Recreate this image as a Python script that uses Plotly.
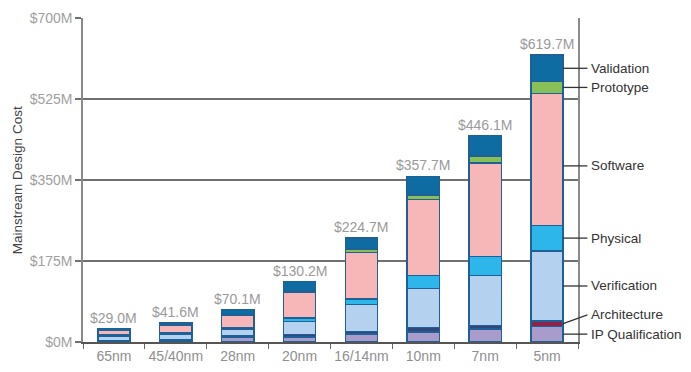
import plotly.graph_objects as go

categories = ["65nm", "45/40nm", "28nm", "20nm", "16/14nm", "10nm", "7nm", "5nm"]
totals = [29.0, 41.6, 70.1, 130.2, 224.7, 357.7, 446.1, 619.7]

ip_qualification = [2.2, 3.0, 9.8, 11.0, 17.7, 21.2, 28.6, 34.0]
architecture = [1.2, 1.5, 3.5, 4.8, 5.3, 10.3, 7.2, 11.0]
verification = [9.2, 12.0, 13.5, 28.5, 58.2, 84.5, 108.1, 152.0]
physical = [2.2, 2.5, 3.0, 7.2, 12.0, 27.5, 40.8, 55.0]
software = [9.6, 17.5, 28.0, 55.0, 100.5, 164.5, 202.0, 285.0]
prototype = [0.4, 0.6, 0.8, 3.7, 6.7, 10.0, 15.0, 26.0]
validation = [4.2, 4.5, 11.5, 20.0, 24.3, 39.7, 44.4, 56.7]

series_names = ["IP Qualification", "Architecture", "Verification", "Physical",
                "Software", "Prototype", "Validation"]
series_values = [ip_qualification, architecture, verification, physical,
                 software, prototype, validation]
arch_colors = ["#34477d"] * 7 + ["#8b2448"]
series_colors = ["#a99ccb", arch_colors, "#b4d1ef", "#2db6ea",
                 "#f7b7b8", "#88c057", "#0e6ca3"]

tick_vals = [0, 175, 350, 525, 700]
tick_text = ["$0M", "$175M", "$350M", "$525M", "$700M"]

FONT = "Liberation Sans, Arial, Helvetica, sans-serif"
BAR_W = 0.52

fig = go.Figure()
for name, vals, col in zip(series_names, series_values, series_colors):
    fig.add_trace(go.Bar(
        x=categories, y=vals, name=name, width=BAR_W,
        marker=dict(color=col, line=dict(color="#1f6096", width=1.5)),
    ))

# total labels
for c, t in zip(categories, totals):
    fig.add_annotation(x=c, y=t, text=f"${t:.1f}M", showarrow=False,
                       yanchor="bottom", yshift=1,
                       font=dict(family=FONT, size=14, color="#9a9a9a"))

# right-side series labels pointing at the last bar
n = len(categories)
bar_right = (n - 1 + BAR_W / 2 + 0.5) / n
line_end = bar_right + 0.049
label_x = line_end + 0.004
last = [v[-1] for v in series_values]
label_offsets = {"Architecture": 19, "Software": -14}
cum = 0
for name, v in zip(series_names, last):
    center = cum + v / 2
    cum += v
    tick_y = center + (label_offsets.get(name, 0) if name == "Software" else 0)
    label_y = center + label_offsets.get(name, 0)
    fig.add_shape(type="line", xref="paper", yref="y",
                  x0=bar_right, x1=line_end, y0=tick_y, y1=label_y,
                  line=dict(color="#333333", width=1.3))
    fig.add_annotation(xref="paper", yref="y", x=label_x, y=label_y,
                       text=name, showarrow=False, xanchor="left",
                       font=dict(family=FONT, size=13.5, color="#333333"))

fig.add_annotation(xref="paper", yref="paper", x=-0.133, y=0.5,
                   text="Mainstream Design Cost", textangle=-90,
                   showarrow=False, xanchor="center", yanchor="middle",
                   font=dict(family=FONT, size=13.5, color="#444444"))

fig.update_layout(
    barmode="stack",
    width=683, height=364,
    margin=dict(l=75, r=113, t=10, b=30, autoexpand=False),
    paper_bgcolor="white", plot_bgcolor="white",
    showlegend=False,
    font=dict(family=FONT, size=13, color="#8a8a8a"),
    xaxis=dict(
        range=[-0.5, n - 0.5], automargin=False, tickangle=0,
        showline=True, linecolor="#555555", linewidth=1.5,
        ticks="outside", tickson="boundaries", ticklen=5,
        tickcolor="#666666", tickwidth=1.2,
        tickfont=dict(family=FONT, size=14, color="#8f8f8f"),
        showgrid=False,
    ),
    yaxis=dict(
        range=[0, 700], automargin=False,
        tickvals=tick_vals, ticktext=tick_text,
        showgrid=True, gridcolor="#707070", gridwidth=1.5,
        zeroline=False,
        showline=True, linecolor="#8a8a8a", linewidth=1.5, mirror=True,
        ticks="outside", ticklen=6, tickcolor="#707070", tickwidth=1.5,
        tickfont=dict(family=FONT, size=14, color="#a0a0a0"),
    ),
)

fig.write_html("out.html")
